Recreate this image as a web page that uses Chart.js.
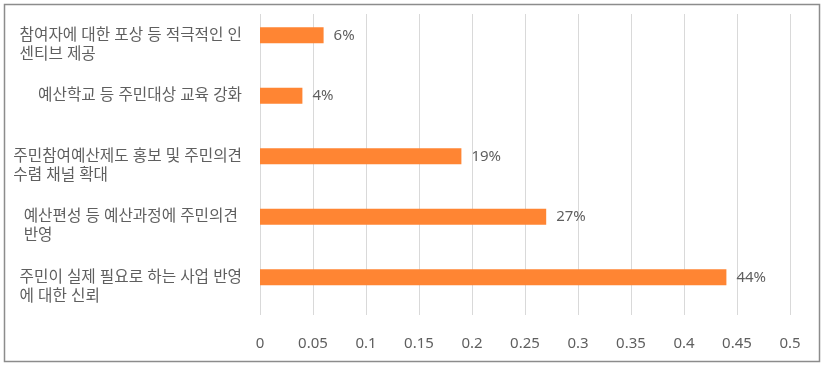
<!DOCTYPE html>
<html>
<head>
<meta charset="utf-8">
<script src="https://cdn.jsdelivr.net/npm/chart.js@4/dist/chart.umd.min.js"></script>
<style>
html,body{margin:0;padding:0;background:#fff;}
#wrap{width:823px;height:367px;}
</style>
</head>
<body>
<div id="wrap"><canvas id="c" width="823" height="367"></canvas></div>
<script>
const categories = [
  ['참여자에 대한 포상 등 적극적인 인', '센티브 제공'],
  ['예산학교 등 주민대상 교육 강화'],
  ['주민참여예산제도 홍보 및 주민의견', '수렴 채널 확대'],
  ['예산편성 등 예산과정에 주민의견 ', '반영'],
  ['주민이 실제 필요로 하는 사업 반영', '에 대한 신뢰']
];
const values = [0.06, 0.04, 0.19, 0.27, 0.44];
const valueLabels = ['6%', '4%', '19%', '27%', '44%'];
const xTickLabels = ['0', '0.05', '0.1', '0.15', '0.2', '0.25', '0.3', '0.35', '0.4', '0.45', '0.5'];

const FONT = "'Noto Sans', 'Noto Sans CJK KR', sans-serif";
const TEXT = '#5f5f5f';

const deco = {
  id: 'deco',
  beforeDatasetsDraw(chart) {
    const ctx = chart.ctx, xs = chart.scales.x;
    ctx.save();
    ctx.strokeStyle = '#d9d9d9';
    ctx.lineWidth = 1;
    xs.ticks.forEach(t => {
      const x = Math.round(xs.getPixelForValue(t.value)) + 0.5;
      ctx.beginPath();
      ctx.moveTo(x, 14);
      ctx.lineTo(x, 315);
      ctx.stroke();
    });
    ctx.restore();
  },
  afterDatasetsDraw(chart) {
    const ctx = chart.ctx, ys = chart.scales.y;
    ctx.save();
    ctx.fillStyle = TEXT;
    ctx.font = '15.7px ' + FONT;
    ctx.textBaseline = 'middle';
    ctx.textAlign = 'left';
    categories.forEach((lines, i) => {
      const y = ys.getPixelForValue(i);
      const w = Math.max(...lines.map(l => ctx.measureText(l).width));
      const x0 = 242 - w;
      lines.forEach((l, k) => ctx.fillText(l, x0, y + k * 19));
    });
    ctx.font = '15px ' + FONT;
    const meta = chart.getDatasetMeta(0);
    meta.data.forEach((bar, i) => {
      ctx.fillText(valueLabels[i], bar.x + 10, bar.y);
    });
    ctx.strokeStyle = '#8c8c8c';
    ctx.lineWidth = 1.5;
    ctx.strokeRect(4.5, 4.5, 815, 357);
    ctx.restore();
  }
};

new Chart(document.getElementById('c'), {
  type: 'bar',
  data: {
    labels: categories,
    datasets: [{
      data: values,
      backgroundColor: '#FF8533',
      borderWidth: 0,
      categoryPercentage: 1,
      barPercentage: 0.265
    }]
  },
  options: {
    indexAxis: 'y',
    responsive: false,
    animation: false,
    layout: { padding: { left: 260, right: 33, top: 5, bottom: 0 } },
    plugins: { legend: { display: false }, tooltip: { enabled: false } },
    scales: {
      y: { display: false },
      x: {
        min: 0, max: 0.5,
        grid: { display: false, drawTicks: true, tickLength: 27 },
        border: { display: false },
        afterFit(s) { s.height = 59.5; },
        ticks: {
          stepSize: 0.05,
          padding: 0,
          color: TEXT,
          font: { size: 15, family: FONT },
          maxRotation: 0,
          autoSkip: false,
          callback: (v, i) => xTickLabels[i]
        }
      }
    }
  },
  plugins: [deco]
});
</script>
</body>
</html>
